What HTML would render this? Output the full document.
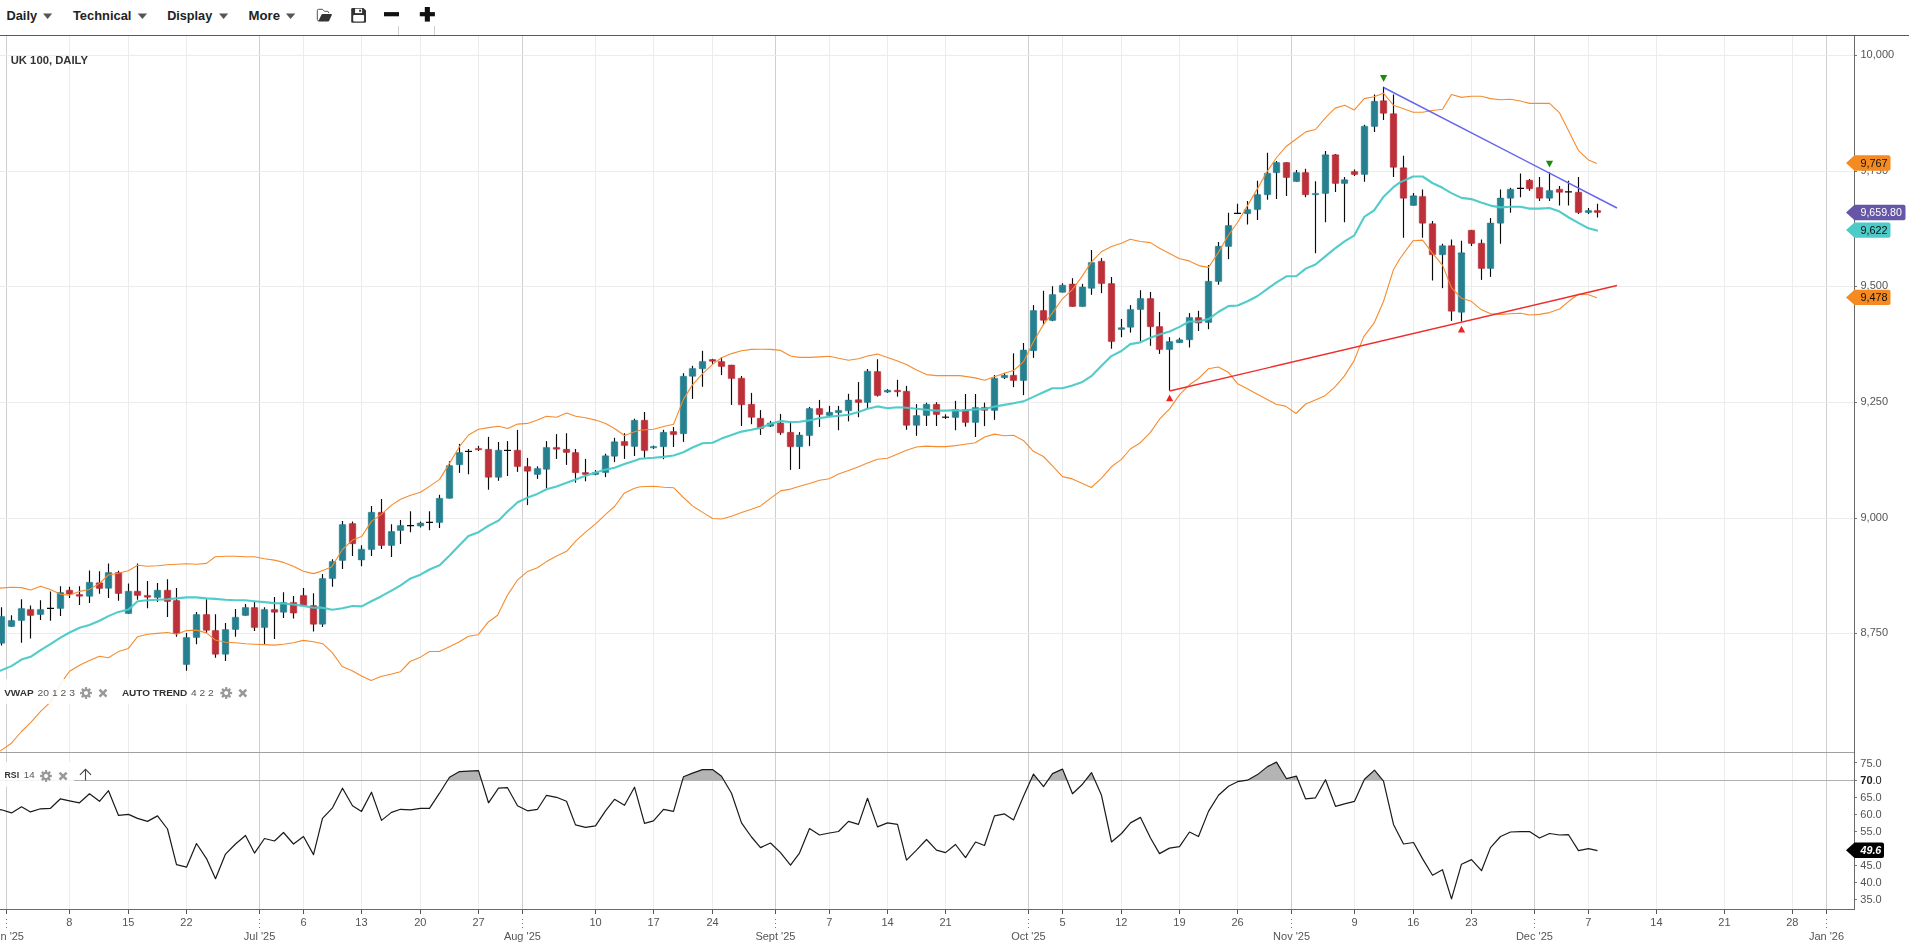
<!DOCTYPE html>
<html><head><meta charset="utf-8"><title>UK 100 Daily Chart</title>
<style>html,body{margin:0;padding:0;background:#fff;overflow:hidden}body{width:1909px;height:942px;font-family:"Liberation Sans",sans-serif}</style></head>
<body>
<svg width="1909" height="942" viewBox="0 0 1909 942" style="display:block;font-family:'Liberation Sans',sans-serif">
<rect width="1909" height="942" fill="#fff"/>
<g shape-rendering="crispEdges">
<line x1="6.5" y1="36" x2="6.5" y2="909" stroke="#cfcfcf" stroke-width="1"/>
<line x1="69.5" y1="36" x2="69.5" y2="909" stroke="#ececec" stroke-width="1"/>
<line x1="128.5" y1="36" x2="128.5" y2="909" stroke="#ececec" stroke-width="1"/>
<line x1="186.5" y1="36" x2="186.5" y2="909" stroke="#ececec" stroke-width="1"/>
<line x1="259.5" y1="36" x2="259.5" y2="909" stroke="#cfcfcf" stroke-width="1"/>
<line x1="303.5" y1="36" x2="303.5" y2="909" stroke="#ececec" stroke-width="1"/>
<line x1="361.5" y1="36" x2="361.5" y2="909" stroke="#ececec" stroke-width="1"/>
<line x1="420.5" y1="36" x2="420.5" y2="909" stroke="#ececec" stroke-width="1"/>
<line x1="478.5" y1="36" x2="478.5" y2="909" stroke="#ececec" stroke-width="1"/>
<line x1="522.5" y1="36" x2="522.5" y2="909" stroke="#cfcfcf" stroke-width="1"/>
<line x1="595.5" y1="36" x2="595.5" y2="909" stroke="#ececec" stroke-width="1"/>
<line x1="653.5" y1="36" x2="653.5" y2="909" stroke="#ececec" stroke-width="1"/>
<line x1="712.5" y1="36" x2="712.5" y2="909" stroke="#ececec" stroke-width="1"/>
<line x1="775.5" y1="36" x2="775.5" y2="909" stroke="#cfcfcf" stroke-width="1"/>
<line x1="829.5" y1="36" x2="829.5" y2="909" stroke="#ececec" stroke-width="1"/>
<line x1="887.5" y1="36" x2="887.5" y2="909" stroke="#ececec" stroke-width="1"/>
<line x1="945.5" y1="36" x2="945.5" y2="909" stroke="#ececec" stroke-width="1"/>
<line x1="1028.5" y1="36" x2="1028.5" y2="909" stroke="#cfcfcf" stroke-width="1"/>
<line x1="1062.5" y1="36" x2="1062.5" y2="909" stroke="#ececec" stroke-width="1"/>
<line x1="1121.5" y1="36" x2="1121.5" y2="909" stroke="#ececec" stroke-width="1"/>
<line x1="1179.5" y1="36" x2="1179.5" y2="909" stroke="#ececec" stroke-width="1"/>
<line x1="1237.5" y1="36" x2="1237.5" y2="909" stroke="#ececec" stroke-width="1"/>
<line x1="1291.5" y1="36" x2="1291.5" y2="909" stroke="#cfcfcf" stroke-width="1"/>
<line x1="1354.5" y1="36" x2="1354.5" y2="909" stroke="#ececec" stroke-width="1"/>
<line x1="1413.5" y1="36" x2="1413.5" y2="909" stroke="#ececec" stroke-width="1"/>
<line x1="1471.5" y1="36" x2="1471.5" y2="909" stroke="#ececec" stroke-width="1"/>
<line x1="1534.5" y1="36" x2="1534.5" y2="909" stroke="#cfcfcf" stroke-width="1"/>
<line x1="1588.5" y1="36" x2="1588.5" y2="909" stroke="#ececec" stroke-width="1"/>
<line x1="1656.5" y1="36" x2="1656.5" y2="909" stroke="#ececec" stroke-width="1"/>
<line x1="1724.5" y1="36" x2="1724.5" y2="909" stroke="#ececec" stroke-width="1"/>
<line x1="1792.5" y1="36" x2="1792.5" y2="909" stroke="#ececec" stroke-width="1"/>
<line x1="1826.5" y1="36" x2="1826.5" y2="909" stroke="#cfcfcf" stroke-width="1"/>
<line x1="0" y1="55.5" x2="1854.5" y2="55.5" stroke="#ececec" stroke-width="1"/>
<line x1="0" y1="171.5" x2="1854.5" y2="171.5" stroke="#ececec" stroke-width="1"/>
<line x1="0" y1="286.5" x2="1854.5" y2="286.5" stroke="#ececec" stroke-width="1"/>
<line x1="0" y1="402.5" x2="1854.5" y2="402.5" stroke="#ececec" stroke-width="1"/>
<line x1="0" y1="518.5" x2="1854.5" y2="518.5" stroke="#ececec" stroke-width="1"/>
<line x1="0" y1="633.5" x2="1854.5" y2="633.5" stroke="#ececec" stroke-width="1"/>
</g>
<clipPath id="cm"><rect x="0" y="36" width="1854.5" height="716.5"/></clipPath>
<g clip-path="url(#cm)">
<line x1="1.5" y1="607.3" x2="1.5" y2="645.6" stroke="#0a0a0a" stroke-width="1.15"/>
<rect x="-1.75" y="616.4" width="6.5" height="26.8" fill="#26808f" stroke="#1f7888" stroke-width="0.5" rx="0.4"/>
<line x1="11.5" y1="615.2" x2="11.5" y2="626.9" stroke="#0a0a0a" stroke-width="1.15"/>
<rect x="8.25" y="620.4" width="6.5" height="6.0" fill="#26808f" stroke="#1f7888" stroke-width="0.5" rx="0.4"/>
<line x1="21.5" y1="599.3" x2="21.5" y2="642.8" stroke="#0a0a0a" stroke-width="1.15"/>
<rect x="18.25" y="608.4" width="6.5" height="12.1" fill="#26808f" stroke="#1f7888" stroke-width="0.5" rx="0.4"/>
<line x1="30.5" y1="605.4" x2="30.5" y2="638.6" stroke="#0a0a0a" stroke-width="1.15"/>
<rect x="27.25" y="609.4" width="6.5" height="6.0" fill="#bb3039" stroke="#b7242d" stroke-width="0.5" rx="0.4"/>
<line x1="40.5" y1="600.3" x2="40.5" y2="619.9" stroke="#0a0a0a" stroke-width="1.15"/>
<rect x="37.25" y="609.4" width="6.5" height="5.1" fill="#26808f" stroke="#1f7888" stroke-width="0.5" rx="0.4"/>
<line x1="50.5" y1="591.4" x2="50.5" y2="620.8" stroke="#0a0a0a" stroke-width="1.15"/>
<line x1="47.0" y1="608.4" x2="54.0" y2="608.4" stroke="#0a0a0a" stroke-width="1.15"/>
<line x1="60.5" y1="586.2" x2="60.5" y2="616.1" stroke="#0a0a0a" stroke-width="1.15"/>
<rect x="57.25" y="592.6" width="6.5" height="15.8" fill="#26808f" stroke="#1f7888" stroke-width="0.5" rx="0.4"/>
<line x1="69.5" y1="586.7" x2="69.5" y2="597.9" stroke="#0a0a0a" stroke-width="1.15"/>
<rect x="66.25" y="590.2" width="6.5" height="3.7" fill="#bb3039" stroke="#b7242d" stroke-width="0.5" rx="0.4"/>
<line x1="79.5" y1="586.2" x2="79.5" y2="604.9" stroke="#0a0a0a" stroke-width="1.15"/>
<rect x="76.25" y="594.4" width="6.5" height="1.8" fill="#bb3039" stroke="#b7242d" stroke-width="0.5" rx="0.4"/>
<line x1="89.5" y1="570.4" x2="89.5" y2="603.1" stroke="#0a0a0a" stroke-width="1.15"/>
<rect x="86.25" y="582.3" width="6.5" height="14.0" fill="#26808f" stroke="#1f7888" stroke-width="0.5" rx="0.4"/>
<line x1="99.5" y1="571.3" x2="99.5" y2="593.7" stroke="#0a0a0a" stroke-width="1.15"/>
<rect x="96.25" y="582.8" width="6.5" height="5.6" fill="#bb3039" stroke="#b7242d" stroke-width="0.5" rx="0.4"/>
<line x1="108.5" y1="563.4" x2="108.5" y2="597.9" stroke="#0a0a0a" stroke-width="1.15"/>
<rect x="105.25" y="572.5" width="6.5" height="15.8" fill="#26808f" stroke="#1f7888" stroke-width="0.5" rx="0.4"/>
<line x1="118.5" y1="570.8" x2="118.5" y2="600.7" stroke="#0a0a0a" stroke-width="1.15"/>
<rect x="115.25" y="572.5" width="6.5" height="21.0" fill="#bb3039" stroke="#b7242d" stroke-width="0.5" rx="0.4"/>
<line x1="128.5" y1="583.4" x2="128.5" y2="613.8" stroke="#0a0a0a" stroke-width="1.15"/>
<rect x="125.25" y="591.2" width="6.5" height="22.4" fill="#26808f" stroke="#1f7888" stroke-width="0.5" rx="0.4"/>
<line x1="137.5" y1="563.4" x2="137.5" y2="599.8" stroke="#0a0a0a" stroke-width="1.15"/>
<rect x="134.25" y="591.2" width="6.5" height="4.2" fill="#bb3039" stroke="#b7242d" stroke-width="0.5" rx="0.4"/>
<line x1="147.5" y1="581.1" x2="147.5" y2="608.2" stroke="#0a0a0a" stroke-width="1.15"/>
<rect x="144.25" y="595.4" width="6.5" height="1.8" fill="#bb3039" stroke="#b7242d" stroke-width="0.5" rx="0.4"/>
<line x1="157.5" y1="583.0" x2="157.5" y2="602.1" stroke="#0a0a0a" stroke-width="1.15"/>
<rect x="154.25" y="590.2" width="6.5" height="7.4" fill="#26808f" stroke="#1f7888" stroke-width="0.5" rx="0.4"/>
<line x1="167.5" y1="579.2" x2="167.5" y2="617.1" stroke="#0a0a0a" stroke-width="1.15"/>
<rect x="164.25" y="590.2" width="6.5" height="11.2" fill="#bb3039" stroke="#b7242d" stroke-width="0.5" rx="0.4"/>
<line x1="176.5" y1="588.1" x2="176.5" y2="636.7" stroke="#0a0a0a" stroke-width="1.15"/>
<rect x="173.25" y="600.5" width="6.5" height="33.1" fill="#bb3039" stroke="#b7242d" stroke-width="0.5" rx="0.4"/>
<line x1="186.5" y1="632.9" x2="186.5" y2="670.8" stroke="#0a0a0a" stroke-width="1.15"/>
<rect x="183.25" y="637.4" width="6.5" height="27.1" fill="#26808f" stroke="#1f7888" stroke-width="0.5" rx="0.4"/>
<line x1="196.5" y1="611.9" x2="196.5" y2="644.2" stroke="#0a0a0a" stroke-width="1.15"/>
<rect x="193.25" y="614.5" width="6.5" height="22.9" fill="#26808f" stroke="#1f7888" stroke-width="0.5" rx="0.4"/>
<line x1="206.5" y1="599.3" x2="206.5" y2="632.9" stroke="#0a0a0a" stroke-width="1.15"/>
<rect x="203.25" y="614.5" width="6.5" height="15.8" fill="#bb3039" stroke="#b7242d" stroke-width="0.5" rx="0.4"/>
<line x1="215.5" y1="614.3" x2="215.5" y2="657.7" stroke="#0a0a0a" stroke-width="1.15"/>
<rect x="212.25" y="630.4" width="6.5" height="23.8" fill="#bb3039" stroke="#b7242d" stroke-width="0.5" rx="0.4"/>
<line x1="225.5" y1="623.1" x2="225.5" y2="661.0" stroke="#0a0a0a" stroke-width="1.15"/>
<rect x="222.25" y="629.5" width="6.5" height="24.7" fill="#26808f" stroke="#1f7888" stroke-width="0.5" rx="0.4"/>
<line x1="235.5" y1="609.1" x2="235.5" y2="636.7" stroke="#0a0a0a" stroke-width="1.15"/>
<rect x="232.25" y="617.3" width="6.5" height="12.1" fill="#26808f" stroke="#1f7888" stroke-width="0.5" rx="0.4"/>
<line x1="245.5" y1="604.0" x2="245.5" y2="615.7" stroke="#0a0a0a" stroke-width="1.15"/>
<rect x="242.25" y="607.5" width="6.5" height="7.9" fill="#26808f" stroke="#1f7888" stroke-width="0.5" rx="0.4"/>
<line x1="254.5" y1="601.7" x2="254.5" y2="631.1" stroke="#0a0a0a" stroke-width="1.15"/>
<rect x="251.25" y="607.5" width="6.5" height="20.1" fill="#bb3039" stroke="#b7242d" stroke-width="0.5" rx="0.4"/>
<line x1="264.5" y1="607.3" x2="264.5" y2="644.2" stroke="#0a0a0a" stroke-width="1.15"/>
<rect x="261.25" y="609.4" width="6.5" height="18.2" fill="#26808f" stroke="#1f7888" stroke-width="0.5" rx="0.4"/>
<line x1="274.5" y1="597.0" x2="274.5" y2="639.0" stroke="#0a0a0a" stroke-width="1.15"/>
<rect x="271.25" y="609.4" width="6.5" height="2.8" fill="#bb3039" stroke="#b7242d" stroke-width="0.5" rx="0.4"/>
<line x1="283.5" y1="592.3" x2="283.5" y2="618.0" stroke="#0a0a0a" stroke-width="1.15"/>
<rect x="280.25" y="602.4" width="6.5" height="9.8" fill="#26808f" stroke="#1f7888" stroke-width="0.5" rx="0.4"/>
<line x1="293.5" y1="596.0" x2="293.5" y2="618.5" stroke="#0a0a0a" stroke-width="1.15"/>
<rect x="290.25" y="602.4" width="6.5" height="10.7" fill="#bb3039" stroke="#b7242d" stroke-width="0.5" rx="0.4"/>
<line x1="303.5" y1="588.1" x2="303.5" y2="605.9" stroke="#0a0a0a" stroke-width="1.15"/>
<rect x="300.25" y="595.4" width="6.5" height="10.2" fill="#bb3039" stroke="#b7242d" stroke-width="0.5" rx="0.4"/>
<line x1="313.5" y1="593.2" x2="313.5" y2="631.5" stroke="#0a0a0a" stroke-width="1.15"/>
<rect x="310.25" y="605.6" width="6.5" height="18.6" fill="#bb3039" stroke="#b7242d" stroke-width="0.5" rx="0.4"/>
<line x1="322.5" y1="574.1" x2="322.5" y2="626.9" stroke="#0a0a0a" stroke-width="1.15"/>
<rect x="319.25" y="578.5" width="6.5" height="45.7" fill="#26808f" stroke="#1f7888" stroke-width="0.5" rx="0.4"/>
<line x1="332.5" y1="559.3" x2="332.5" y2="586.8" stroke="#0a0a0a" stroke-width="1.15"/>
<rect x="329.25" y="561.4" width="6.5" height="17.2" fill="#26808f" stroke="#1f7888" stroke-width="0.5" rx="0.4"/>
<line x1="342.5" y1="521.0" x2="342.5" y2="569.1" stroke="#0a0a0a" stroke-width="1.15"/>
<rect x="339.25" y="524.5" width="6.5" height="35.9" fill="#26808f" stroke="#1f7888" stroke-width="0.5" rx="0.4"/>
<line x1="352.5" y1="521.4" x2="352.5" y2="556.0" stroke="#0a0a0a" stroke-width="1.15"/>
<rect x="349.25" y="523.6" width="6.5" height="20.1" fill="#bb3039" stroke="#b7242d" stroke-width="0.5" rx="0.4"/>
<line x1="361.5" y1="545.3" x2="361.5" y2="566.3" stroke="#0a0a0a" stroke-width="1.15"/>
<rect x="358.25" y="549.2" width="6.5" height="10.7" fill="#26808f" stroke="#1f7888" stroke-width="0.5" rx="0.4"/>
<line x1="371.5" y1="506.0" x2="371.5" y2="556.0" stroke="#0a0a0a" stroke-width="1.15"/>
<rect x="368.25" y="512.3" width="6.5" height="37.3" fill="#26808f" stroke="#1f7888" stroke-width="0.5" rx="0.4"/>
<line x1="381.5" y1="499.0" x2="381.5" y2="549.0" stroke="#0a0a0a" stroke-width="1.15"/>
<rect x="378.25" y="512.3" width="6.5" height="33.1" fill="#bb3039" stroke="#b7242d" stroke-width="0.5" rx="0.4"/>
<line x1="391.5" y1="524.2" x2="391.5" y2="556.9" stroke="#0a0a0a" stroke-width="1.15"/>
<rect x="388.25" y="531.5" width="6.5" height="14.0" fill="#26808f" stroke="#1f7888" stroke-width="0.5" rx="0.4"/>
<line x1="400.5" y1="520.0" x2="400.5" y2="543.9" stroke="#0a0a0a" stroke-width="1.15"/>
<rect x="397.25" y="525.4" width="6.5" height="5.1" fill="#26808f" stroke="#1f7888" stroke-width="0.5" rx="0.4"/>
<line x1="410.5" y1="511.2" x2="410.5" y2="532.2" stroke="#0a0a0a" stroke-width="1.15"/>
<line x1="407.0" y1="525.6" x2="414.0" y2="525.6" stroke="#0a0a0a" stroke-width="1.15"/>
<line x1="420.5" y1="521.4" x2="420.5" y2="527.5" stroke="#0a0a0a" stroke-width="1.15"/>
<rect x="417.25" y="523.1" width="6.5" height="2.8" fill="#26808f" stroke="#1f7888" stroke-width="0.5" rx="0.4"/>
<line x1="429.5" y1="511.2" x2="429.5" y2="530.3" stroke="#0a0a0a" stroke-width="1.15"/>
<line x1="426.0" y1="522.4" x2="433.0" y2="522.4" stroke="#0a0a0a" stroke-width="1.15"/>
<line x1="439.5" y1="494.8" x2="439.5" y2="528.0" stroke="#0a0a0a" stroke-width="1.15"/>
<rect x="436.25" y="498.3" width="6.5" height="24.3" fill="#26808f" stroke="#1f7888" stroke-width="0.5" rx="0.4"/>
<line x1="449.5" y1="461.2" x2="449.5" y2="498.6" stroke="#0a0a0a" stroke-width="1.15"/>
<rect x="446.25" y="465.6" width="6.5" height="32.7" fill="#26808f" stroke="#1f7888" stroke-width="0.5" rx="0.4"/>
<line x1="459.5" y1="443.9" x2="459.5" y2="472.9" stroke="#0a0a0a" stroke-width="1.15"/>
<rect x="456.25" y="452.6" width="6.5" height="12.1" fill="#26808f" stroke="#1f7888" stroke-width="0.5" rx="0.4"/>
<line x1="468.5" y1="449.0" x2="468.5" y2="474.3" stroke="#0a0a0a" stroke-width="1.15"/>
<line x1="465.0" y1="451.4" x2="472.0" y2="451.4" stroke="#0a0a0a" stroke-width="1.15"/>
<line x1="478.5" y1="445.8" x2="478.5" y2="450.9" stroke="#0a0a0a" stroke-width="1.15"/>
<rect x="475.25" y="448.4" width="6.5" height="1.4" fill="#bb3039" stroke="#b7242d" stroke-width="0.5" rx="0.4"/>
<line x1="488.5" y1="436.9" x2="488.5" y2="489.7" stroke="#0a0a0a" stroke-width="1.15"/>
<rect x="485.25" y="449.3" width="6.5" height="28.0" fill="#bb3039" stroke="#b7242d" stroke-width="0.5" rx="0.4"/>
<line x1="498.5" y1="442.0" x2="498.5" y2="480.8" stroke="#0a0a0a" stroke-width="1.15"/>
<rect x="495.25" y="450.2" width="6.5" height="27.1" fill="#26808f" stroke="#1f7888" stroke-width="0.5" rx="0.4"/>
<line x1="507.5" y1="441.1" x2="507.5" y2="476.1" stroke="#0a0a0a" stroke-width="1.15"/>
<line x1="504.0" y1="450.4" x2="511.0" y2="450.4" stroke="#0a0a0a" stroke-width="1.15"/>
<line x1="517.5" y1="429.9" x2="517.5" y2="471.9" stroke="#0a0a0a" stroke-width="1.15"/>
<rect x="514.25" y="450.2" width="6.5" height="16.3" fill="#bb3039" stroke="#b7242d" stroke-width="0.5" rx="0.4"/>
<line x1="527.5" y1="457.9" x2="527.5" y2="505.1" stroke="#0a0a0a" stroke-width="1.15"/>
<rect x="524.25" y="466.6" width="6.5" height="4.6" fill="#bb3039" stroke="#b7242d" stroke-width="0.5" rx="0.4"/>
<line x1="537.5" y1="466.3" x2="537.5" y2="478.9" stroke="#0a0a0a" stroke-width="1.15"/>
<rect x="534.25" y="468.4" width="6.5" height="6.0" fill="#26808f" stroke="#1f7888" stroke-width="0.5" rx="0.4"/>
<line x1="546.5" y1="441.1" x2="546.5" y2="488.3" stroke="#0a0a0a" stroke-width="1.15"/>
<rect x="543.25" y="447.4" width="6.5" height="21.9" fill="#26808f" stroke="#1f7888" stroke-width="0.5" rx="0.4"/>
<line x1="556.5" y1="434.1" x2="556.5" y2="458.9" stroke="#0a0a0a" stroke-width="1.15"/>
<rect x="553.25" y="447.4" width="6.5" height="1.8" fill="#bb3039" stroke="#b7242d" stroke-width="0.5" rx="0.4"/>
<line x1="566.5" y1="433.2" x2="566.5" y2="464.9" stroke="#0a0a0a" stroke-width="1.15"/>
<rect x="563.25" y="449.3" width="6.5" height="3.2" fill="#bb3039" stroke="#b7242d" stroke-width="0.5" rx="0.4"/>
<line x1="575.5" y1="449.0" x2="575.5" y2="482.7" stroke="#0a0a0a" stroke-width="1.15"/>
<rect x="572.25" y="452.6" width="6.5" height="20.1" fill="#bb3039" stroke="#b7242d" stroke-width="0.5" rx="0.4"/>
<line x1="585.5" y1="458.9" x2="585.5" y2="481.3" stroke="#0a0a0a" stroke-width="1.15"/>
<rect x="582.25" y="472.6" width="6.5" height="1.8" fill="#bb3039" stroke="#b7242d" stroke-width="0.5" rx="0.4"/>
<line x1="595.5" y1="470.1" x2="595.5" y2="475.2" stroke="#0a0a0a" stroke-width="1.15"/>
<rect x="592.25" y="472.6" width="6.5" height="1.8" fill="#26808f" stroke="#1f7888" stroke-width="0.5" rx="0.4"/>
<line x1="605.5" y1="453.7" x2="605.5" y2="477.1" stroke="#0a0a0a" stroke-width="1.15"/>
<rect x="602.25" y="455.8" width="6.5" height="16.8" fill="#26808f" stroke="#1f7888" stroke-width="0.5" rx="0.4"/>
<line x1="614.5" y1="437.8" x2="614.5" y2="462.1" stroke="#0a0a0a" stroke-width="1.15"/>
<rect x="611.25" y="441.8" width="6.5" height="14.4" fill="#26808f" stroke="#1f7888" stroke-width="0.5" rx="0.4"/>
<line x1="624.5" y1="433.2" x2="624.5" y2="458.9" stroke="#0a0a0a" stroke-width="1.15"/>
<rect x="621.25" y="441.4" width="6.5" height="4.2" fill="#bb3039" stroke="#b7242d" stroke-width="0.5" rx="0.4"/>
<line x1="634.5" y1="418.7" x2="634.5" y2="456.0" stroke="#0a0a0a" stroke-width="1.15"/>
<rect x="631.25" y="420.3" width="6.5" height="26.1" fill="#26808f" stroke="#1f7888" stroke-width="0.5" rx="0.4"/>
<line x1="644.5" y1="412.0" x2="644.5" y2="457.8" stroke="#0a0a0a" stroke-width="1.15"/>
<rect x="641.25" y="420.2" width="6.5" height="30.3" fill="#bb3039" stroke="#b7242d" stroke-width="0.5" rx="0.4"/>
<line x1="653.5" y1="445.6" x2="653.5" y2="448.9" stroke="#0a0a0a" stroke-width="1.15"/>
<rect x="650.25" y="446.4" width="6.5" height="1.4" fill="#26808f" stroke="#1f7888" stroke-width="0.5" rx="0.4"/>
<line x1="663.5" y1="429.8" x2="663.5" y2="459.2" stroke="#0a0a0a" stroke-width="1.15"/>
<rect x="660.25" y="432.3" width="6.5" height="14.4" fill="#26808f" stroke="#1f7888" stroke-width="0.5" rx="0.4"/>
<line x1="673.5" y1="427.0" x2="673.5" y2="447.0" stroke="#0a0a0a" stroke-width="1.15"/>
<rect x="670.25" y="431.4" width="6.5" height="3.2" fill="#bb3039" stroke="#b7242d" stroke-width="0.5" rx="0.4"/>
<line x1="683.5" y1="373.2" x2="683.5" y2="441.9" stroke="#0a0a0a" stroke-width="1.15"/>
<rect x="680.25" y="376.3" width="6.5" height="57.4" fill="#26808f" stroke="#1f7888" stroke-width="0.5" rx="0.4"/>
<line x1="692.5" y1="365.8" x2="692.5" y2="398.9" stroke="#0a0a0a" stroke-width="1.15"/>
<rect x="689.25" y="368.4" width="6.5" height="7.9" fill="#26808f" stroke="#1f7888" stroke-width="0.5" rx="0.4"/>
<line x1="702.5" y1="350.8" x2="702.5" y2="386.8" stroke="#0a0a0a" stroke-width="1.15"/>
<rect x="699.25" y="361.4" width="6.5" height="7.4" fill="#26808f" stroke="#1f7888" stroke-width="0.5" rx="0.4"/>
<line x1="712.5" y1="358.8" x2="712.5" y2="363.9" stroke="#0a0a0a" stroke-width="1.15"/>
<rect x="709.25" y="359.5" width="6.5" height="1.8" fill="#bb3039" stroke="#b7242d" stroke-width="0.5" rx="0.4"/>
<line x1="721.5" y1="357.4" x2="721.5" y2="375.1" stroke="#0a0a0a" stroke-width="1.15"/>
<rect x="718.25" y="361.4" width="6.5" height="5.1" fill="#bb3039" stroke="#b7242d" stroke-width="0.5" rx="0.4"/>
<line x1="731.5" y1="364.8" x2="731.5" y2="405.0" stroke="#0a0a0a" stroke-width="1.15"/>
<rect x="728.25" y="365.1" width="6.5" height="13.5" fill="#bb3039" stroke="#b7242d" stroke-width="0.5" rx="0.4"/>
<line x1="741.5" y1="376.0" x2="741.5" y2="426.0" stroke="#0a0a0a" stroke-width="1.15"/>
<rect x="738.25" y="378.2" width="6.5" height="26.6" fill="#bb3039" stroke="#b7242d" stroke-width="0.5" rx="0.4"/>
<line x1="751.5" y1="392.9" x2="751.5" y2="424.2" stroke="#0a0a0a" stroke-width="1.15"/>
<rect x="748.25" y="404.3" width="6.5" height="13.0" fill="#bb3039" stroke="#b7242d" stroke-width="0.5" rx="0.4"/>
<line x1="760.5" y1="410.1" x2="760.5" y2="434.9" stroke="#0a0a0a" stroke-width="1.15"/>
<rect x="757.25" y="418.3" width="6.5" height="10.2" fill="#bb3039" stroke="#b7242d" stroke-width="0.5" rx="0.4"/>
<line x1="770.5" y1="420.9" x2="770.5" y2="427.0" stroke="#0a0a0a" stroke-width="1.15"/>
<rect x="767.25" y="423.0" width="6.5" height="3.2" fill="#26808f" stroke="#1f7888" stroke-width="0.5" rx="0.4"/>
<line x1="780.5" y1="413.9" x2="780.5" y2="434.9" stroke="#0a0a0a" stroke-width="1.15"/>
<rect x="777.25" y="423.0" width="6.5" height="9.8" fill="#bb3039" stroke="#b7242d" stroke-width="0.5" rx="0.4"/>
<line x1="790.5" y1="421.4" x2="790.5" y2="469.9" stroke="#0a0a0a" stroke-width="1.15"/>
<rect x="787.25" y="432.3" width="6.5" height="14.4" fill="#bb3039" stroke="#b7242d" stroke-width="0.5" rx="0.4"/>
<line x1="799.5" y1="432.1" x2="799.5" y2="469.0" stroke="#0a0a0a" stroke-width="1.15"/>
<rect x="796.25" y="435.1" width="6.5" height="11.6" fill="#26808f" stroke="#1f7888" stroke-width="0.5" rx="0.4"/>
<line x1="809.5" y1="406.9" x2="809.5" y2="446.1" stroke="#0a0a0a" stroke-width="1.15"/>
<rect x="806.25" y="408.5" width="6.5" height="27.1" fill="#26808f" stroke="#1f7888" stroke-width="0.5" rx="0.4"/>
<line x1="819.5" y1="399.9" x2="819.5" y2="427.0" stroke="#0a0a0a" stroke-width="1.15"/>
<rect x="816.25" y="408.5" width="6.5" height="6.0" fill="#bb3039" stroke="#b7242d" stroke-width="0.5" rx="0.4"/>
<line x1="829.5" y1="405.9" x2="829.5" y2="416.7" stroke="#0a0a0a" stroke-width="1.15"/>
<rect x="826.25" y="412.3" width="6.5" height="3.2" fill="#26808f" stroke="#1f7888" stroke-width="0.5" rx="0.4"/>
<line x1="838.5" y1="405.9" x2="838.5" y2="430.2" stroke="#0a0a0a" stroke-width="1.15"/>
<rect x="835.25" y="410.4" width="6.5" height="2.3" fill="#26808f" stroke="#1f7888" stroke-width="0.5" rx="0.4"/>
<line x1="848.5" y1="393.8" x2="848.5" y2="421.4" stroke="#0a0a0a" stroke-width="1.15"/>
<rect x="845.25" y="400.1" width="6.5" height="10.7" fill="#26808f" stroke="#1f7888" stroke-width="0.5" rx="0.4"/>
<line x1="858.5" y1="382.1" x2="858.5" y2="417.2" stroke="#0a0a0a" stroke-width="1.15"/>
<rect x="855.25" y="399.7" width="6.5" height="2.8" fill="#bb3039" stroke="#b7242d" stroke-width="0.5" rx="0.4"/>
<line x1="867.5" y1="369.0" x2="867.5" y2="408.3" stroke="#0a0a0a" stroke-width="1.15"/>
<rect x="864.25" y="371.2" width="6.5" height="31.3" fill="#26808f" stroke="#1f7888" stroke-width="0.5" rx="0.4"/>
<line x1="877.5" y1="359.2" x2="877.5" y2="396.6" stroke="#0a0a0a" stroke-width="1.15"/>
<rect x="874.25" y="371.6" width="6.5" height="23.8" fill="#bb3039" stroke="#b7242d" stroke-width="0.5" rx="0.4"/>
<line x1="887.5" y1="389.1" x2="887.5" y2="392.9" stroke="#0a0a0a" stroke-width="1.15"/>
<rect x="884.25" y="390.3" width="6.5" height="1.8" fill="#26808f" stroke="#1f7888" stroke-width="0.5" rx="0.4"/>
<line x1="897.5" y1="379.8" x2="897.5" y2="396.6" stroke="#0a0a0a" stroke-width="1.15"/>
<rect x="894.25" y="390.3" width="6.5" height="1.4" fill="#bb3039" stroke="#b7242d" stroke-width="0.5" rx="0.4"/>
<line x1="906.5" y1="385.9" x2="906.5" y2="429.8" stroke="#0a0a0a" stroke-width="1.15"/>
<rect x="903.25" y="391.2" width="6.5" height="34.1" fill="#bb3039" stroke="#b7242d" stroke-width="0.5" rx="0.4"/>
<line x1="916.5" y1="404.1" x2="916.5" y2="435.8" stroke="#0a0a0a" stroke-width="1.15"/>
<rect x="913.25" y="415.5" width="6.5" height="9.8" fill="#26808f" stroke="#1f7888" stroke-width="0.5" rx="0.4"/>
<line x1="926.5" y1="402.7" x2="926.5" y2="426.0" stroke="#0a0a0a" stroke-width="1.15"/>
<rect x="923.25" y="404.3" width="6.5" height="11.2" fill="#26808f" stroke="#1f7888" stroke-width="0.5" rx="0.4"/>
<line x1="936.5" y1="402.2" x2="936.5" y2="426.0" stroke="#0a0a0a" stroke-width="1.15"/>
<rect x="933.25" y="404.3" width="6.5" height="10.2" fill="#bb3039" stroke="#b7242d" stroke-width="0.5" rx="0.4"/>
<line x1="945.5" y1="414.3" x2="945.5" y2="419.0" stroke="#0a0a0a" stroke-width="1.15"/>
<line x1="942.0" y1="417.2" x2="949.0" y2="417.2" stroke="#0a0a0a" stroke-width="1.15"/>
<line x1="955.5" y1="400.8" x2="955.5" y2="430.2" stroke="#0a0a0a" stroke-width="1.15"/>
<rect x="952.25" y="409.5" width="6.5" height="7.9" fill="#26808f" stroke="#1f7888" stroke-width="0.5" rx="0.4"/>
<line x1="965.5" y1="394.0" x2="965.5" y2="426.7" stroke="#0a0a0a" stroke-width="1.15"/>
<rect x="962.25" y="409.7" width="6.5" height="12.7" fill="#bb3039" stroke="#b7242d" stroke-width="0.5" rx="0.4"/>
<line x1="975.5" y1="394.0" x2="975.5" y2="437.0" stroke="#0a0a0a" stroke-width="1.15"/>
<rect x="972.25" y="407.4" width="6.5" height="15.0" fill="#26808f" stroke="#1f7888" stroke-width="0.5" rx="0.4"/>
<line x1="984.5" y1="402.6" x2="984.5" y2="426.1" stroke="#0a0a0a" stroke-width="1.15"/>
<rect x="981.25" y="407.4" width="6.5" height="2.9" fill="#bb3039" stroke="#b7242d" stroke-width="0.5" rx="0.4"/>
<line x1="994.5" y1="375.1" x2="994.5" y2="419.8" stroke="#0a0a0a" stroke-width="1.15"/>
<rect x="991.25" y="378.2" width="6.5" height="32.2" fill="#26808f" stroke="#1f7888" stroke-width="0.5" rx="0.4"/>
<line x1="1004.5" y1="372.8" x2="1004.5" y2="379.1" stroke="#0a0a0a" stroke-width="1.15"/>
<rect x="1001.25" y="375.3" width="6.5" height="2.4" fill="#26808f" stroke="#1f7888" stroke-width="0.5" rx="0.4"/>
<line x1="1013.5" y1="353.3" x2="1013.5" y2="387.1" stroke="#0a0a0a" stroke-width="1.15"/>
<rect x="1010.25" y="375.3" width="6.5" height="5.2" fill="#bb3039" stroke="#b7242d" stroke-width="0.5" rx="0.4"/>
<line x1="1023.5" y1="343.0" x2="1023.5" y2="395.1" stroke="#0a0a0a" stroke-width="1.15"/>
<rect x="1020.25" y="350.1" width="6.5" height="30.5" fill="#26808f" stroke="#1f7888" stroke-width="0.5" rx="0.4"/>
<line x1="1033.5" y1="305.1" x2="1033.5" y2="357.9" stroke="#0a0a0a" stroke-width="1.15"/>
<rect x="1030.25" y="310.5" width="6.5" height="40.2" fill="#26808f" stroke="#1f7888" stroke-width="0.5" rx="0.4"/>
<line x1="1043.5" y1="290.8" x2="1043.5" y2="325.2" stroke="#0a0a0a" stroke-width="1.15"/>
<rect x="1040.25" y="310.5" width="6.5" height="9.8" fill="#bb3039" stroke="#b7242d" stroke-width="0.5" rx="0.4"/>
<line x1="1052.5" y1="286.2" x2="1052.5" y2="321.2" stroke="#0a0a0a" stroke-width="1.15"/>
<rect x="1049.25" y="294.5" width="6.5" height="25.9" fill="#26808f" stroke="#1f7888" stroke-width="0.5" rx="0.4"/>
<line x1="1062.5" y1="283.3" x2="1062.5" y2="292.5" stroke="#0a0a0a" stroke-width="1.15"/>
<rect x="1059.25" y="285.3" width="6.5" height="7.0" fill="#26808f" stroke="#1f7888" stroke-width="0.5" rx="0.4"/>
<line x1="1072.5" y1="278.2" x2="1072.5" y2="306.8" stroke="#0a0a0a" stroke-width="1.15"/>
<rect x="1069.25" y="284.1" width="6.5" height="22.4" fill="#bb3039" stroke="#b7242d" stroke-width="0.5" rx="0.4"/>
<line x1="1082.5" y1="283.9" x2="1082.5" y2="306.8" stroke="#0a0a0a" stroke-width="1.15"/>
<rect x="1079.25" y="287.0" width="6.5" height="19.6" fill="#26808f" stroke="#1f7888" stroke-width="0.5" rx="0.4"/>
<line x1="1091.5" y1="250.1" x2="1091.5" y2="294.8" stroke="#0a0a0a" stroke-width="1.15"/>
<rect x="1088.25" y="262.4" width="6.5" height="25.9" fill="#26808f" stroke="#1f7888" stroke-width="0.5" rx="0.4"/>
<line x1="1101.5" y1="258.1" x2="1101.5" y2="293.1" stroke="#0a0a0a" stroke-width="1.15"/>
<rect x="1098.25" y="261.2" width="6.5" height="22.4" fill="#bb3039" stroke="#b7242d" stroke-width="0.5" rx="0.4"/>
<line x1="1111.5" y1="277.0" x2="1111.5" y2="348.7" stroke="#0a0a0a" stroke-width="1.15"/>
<rect x="1108.25" y="283.6" width="6.5" height="58.0" fill="#bb3039" stroke="#b7242d" stroke-width="0.5" rx="0.4"/>
<line x1="1121.5" y1="318.9" x2="1121.5" y2="337.2" stroke="#0a0a0a" stroke-width="1.15"/>
<rect x="1118.25" y="327.7" width="6.5" height="1.8" fill="#26808f" stroke="#1f7888" stroke-width="0.5" rx="0.4"/>
<line x1="1130.5" y1="305.1" x2="1130.5" y2="332.6" stroke="#0a0a0a" stroke-width="1.15"/>
<rect x="1127.25" y="309.4" width="6.5" height="17.8" fill="#26808f" stroke="#1f7888" stroke-width="0.5" rx="0.4"/>
<line x1="1140.5" y1="290.2" x2="1140.5" y2="341.2" stroke="#0a0a0a" stroke-width="1.15"/>
<rect x="1137.25" y="298.5" width="6.5" height="11.0" fill="#26808f" stroke="#1f7888" stroke-width="0.5" rx="0.4"/>
<line x1="1150.5" y1="291.9" x2="1150.5" y2="345.8" stroke="#0a0a0a" stroke-width="1.15"/>
<rect x="1147.25" y="298.5" width="6.5" height="28.2" fill="#bb3039" stroke="#b7242d" stroke-width="0.5" rx="0.4"/>
<line x1="1159.5" y1="312.0" x2="1159.5" y2="353.9" stroke="#0a0a0a" stroke-width="1.15"/>
<rect x="1156.25" y="326.6" width="6.5" height="23.0" fill="#bb3039" stroke="#b7242d" stroke-width="0.5" rx="0.4"/>
<line x1="1169.5" y1="337.2" x2="1169.5" y2="390.6" stroke="#0a0a0a" stroke-width="1.15"/>
<rect x="1166.25" y="341.5" width="6.5" height="8.1" fill="#26808f" stroke="#1f7888" stroke-width="0.5" rx="0.4"/>
<line x1="1179.5" y1="337.8" x2="1179.5" y2="343.0" stroke="#0a0a0a" stroke-width="1.15"/>
<rect x="1176.25" y="339.8" width="6.5" height="2.9" fill="#26808f" stroke="#1f7888" stroke-width="0.5" rx="0.4"/>
<line x1="1189.5" y1="313.1" x2="1189.5" y2="347.5" stroke="#0a0a0a" stroke-width="1.15"/>
<rect x="1186.25" y="317.4" width="6.5" height="22.4" fill="#26808f" stroke="#1f7888" stroke-width="0.5" rx="0.4"/>
<line x1="1198.5" y1="310.8" x2="1198.5" y2="331.0" stroke="#0a0a0a" stroke-width="1.15"/>
<rect x="1195.25" y="317.6" width="6.5" height="5.4" fill="#bb3039" stroke="#b7242d" stroke-width="0.5" rx="0.4"/>
<line x1="1208.5" y1="265.1" x2="1208.5" y2="329.2" stroke="#0a0a0a" stroke-width="1.15"/>
<rect x="1205.25" y="281.3" width="6.5" height="41.1" fill="#26808f" stroke="#1f7888" stroke-width="0.5" rx="0.4"/>
<line x1="1218.5" y1="241.9" x2="1218.5" y2="284.7" stroke="#0a0a0a" stroke-width="1.15"/>
<rect x="1215.25" y="246.3" width="6.5" height="35.2" fill="#26808f" stroke="#1f7888" stroke-width="0.5" rx="0.4"/>
<line x1="1228.5" y1="212.7" x2="1228.5" y2="259.1" stroke="#0a0a0a" stroke-width="1.15"/>
<rect x="1225.25" y="225.5" width="6.5" height="20.9" fill="#26808f" stroke="#1f7888" stroke-width="0.5" rx="0.4"/>
<line x1="1237.5" y1="203.8" x2="1237.5" y2="213.3" stroke="#0a0a0a" stroke-width="1.15"/>
<line x1="1234.0" y1="213.3" x2="1241.0" y2="213.3" stroke="#0a0a0a" stroke-width="1.15"/>
<line x1="1247.5" y1="200.9" x2="1247.5" y2="224.6" stroke="#0a0a0a" stroke-width="1.15"/>
<rect x="1244.25" y="209.4" width="6.5" height="4.3" fill="#26808f" stroke="#1f7888" stroke-width="0.5" rx="0.4"/>
<line x1="1257.5" y1="180.7" x2="1257.5" y2="219.9" stroke="#0a0a0a" stroke-width="1.15"/>
<rect x="1254.25" y="194.6" width="6.5" height="15.0" fill="#26808f" stroke="#1f7888" stroke-width="0.5" rx="0.4"/>
<line x1="1267.5" y1="152.7" x2="1267.5" y2="199.7" stroke="#0a0a0a" stroke-width="1.15"/>
<rect x="1264.25" y="173.2" width="6.5" height="21.5" fill="#26808f" stroke="#1f7888" stroke-width="0.5" rx="0.4"/>
<line x1="1276.5" y1="161.0" x2="1276.5" y2="199.1" stroke="#0a0a0a" stroke-width="1.15"/>
<rect x="1273.25" y="162.5" width="6.5" height="10.2" fill="#26808f" stroke="#1f7888" stroke-width="0.5" rx="0.4"/>
<line x1="1286.5" y1="162.2" x2="1286.5" y2="196.1" stroke="#0a0a0a" stroke-width="1.15"/>
<rect x="1283.25" y="162.5" width="6.5" height="15.0" fill="#bb3039" stroke="#b7242d" stroke-width="0.5" rx="0.4"/>
<line x1="1296.5" y1="170.0" x2="1296.5" y2="181.8" stroke="#0a0a0a" stroke-width="1.15"/>
<rect x="1293.25" y="172.6" width="6.5" height="9.0" fill="#26808f" stroke="#1f7888" stroke-width="0.5" rx="0.4"/>
<line x1="1305.5" y1="168.8" x2="1305.5" y2="197.3" stroke="#0a0a0a" stroke-width="1.15"/>
<rect x="1302.25" y="172.6" width="6.5" height="22.1" fill="#bb3039" stroke="#b7242d" stroke-width="0.5" rx="0.4"/>
<line x1="1315.5" y1="181.2" x2="1315.5" y2="253.2" stroke="#0a0a0a" stroke-width="1.15"/>
<rect x="1312.25" y="193.4" width="6.5" height="1.3" fill="#26808f" stroke="#1f7888" stroke-width="0.5" rx="0.4"/>
<line x1="1325.5" y1="150.9" x2="1325.5" y2="222.3" stroke="#0a0a0a" stroke-width="1.15"/>
<rect x="1322.25" y="154.8" width="6.5" height="38.7" fill="#26808f" stroke="#1f7888" stroke-width="0.5" rx="0.4"/>
<line x1="1335.5" y1="153.9" x2="1335.5" y2="191.9" stroke="#0a0a0a" stroke-width="1.15"/>
<rect x="1332.25" y="154.8" width="6.5" height="28.6" fill="#bb3039" stroke="#b7242d" stroke-width="0.5" rx="0.4"/>
<line x1="1344.5" y1="177.1" x2="1344.5" y2="222.3" stroke="#0a0a0a" stroke-width="1.15"/>
<rect x="1341.25" y="179.7" width="6.5" height="3.7" fill="#26808f" stroke="#1f7888" stroke-width="0.5" rx="0.4"/>
<line x1="1354.5" y1="169.4" x2="1354.5" y2="175.9" stroke="#0a0a0a" stroke-width="1.15"/>
<rect x="1351.25" y="171.4" width="6.5" height="3.1" fill="#bb3039" stroke="#b7242d" stroke-width="0.5" rx="0.4"/>
<line x1="1364.5" y1="124.8" x2="1364.5" y2="181.8" stroke="#0a0a0a" stroke-width="1.15"/>
<rect x="1361.25" y="126.2" width="6.5" height="48.2" fill="#26808f" stroke="#1f7888" stroke-width="0.5" rx="0.4"/>
<line x1="1374.5" y1="94.5" x2="1374.5" y2="131.9" stroke="#0a0a0a" stroke-width="1.15"/>
<rect x="1371.25" y="101.3" width="6.5" height="25.1" fill="#26808f" stroke="#1f7888" stroke-width="0.5" rx="0.4"/>
<line x1="1383.5" y1="86.7" x2="1383.5" y2="120.0" stroke="#0a0a0a" stroke-width="1.15"/>
<rect x="1380.25" y="100.7" width="6.5" height="12.6" fill="#bb3039" stroke="#b7242d" stroke-width="0.5" rx="0.4"/>
<line x1="1393.5" y1="94.5" x2="1393.5" y2="177.1" stroke="#0a0a0a" stroke-width="1.15"/>
<rect x="1390.25" y="113.7" width="6.5" height="53.6" fill="#bb3039" stroke="#b7242d" stroke-width="0.5" rx="0.4"/>
<line x1="1403.5" y1="155.7" x2="1403.5" y2="237.7" stroke="#0a0a0a" stroke-width="1.15"/>
<rect x="1400.25" y="167.8" width="6.5" height="30.4" fill="#bb3039" stroke="#b7242d" stroke-width="0.5" rx="0.4"/>
<line x1="1413.5" y1="193.1" x2="1413.5" y2="205.6" stroke="#0a0a0a" stroke-width="1.15"/>
<rect x="1410.25" y="195.8" width="6.5" height="9.6" fill="#26808f" stroke="#1f7888" stroke-width="0.5" rx="0.4"/>
<line x1="1422.5" y1="189.6" x2="1422.5" y2="237.7" stroke="#0a0a0a" stroke-width="1.15"/>
<rect x="1419.25" y="196.4" width="6.5" height="26.8" fill="#bb3039" stroke="#b7242d" stroke-width="0.5" rx="0.4"/>
<line x1="1432.5" y1="221.1" x2="1432.5" y2="280.5" stroke="#0a0a0a" stroke-width="1.15"/>
<rect x="1429.25" y="223.7" width="6.5" height="31.0" fill="#bb3039" stroke="#b7242d" stroke-width="0.5" rx="0.4"/>
<line x1="1442.5" y1="243.7" x2="1442.5" y2="288.2" stroke="#0a0a0a" stroke-width="1.15"/>
<rect x="1439.25" y="245.7" width="6.5" height="9.0" fill="#26808f" stroke="#1f7888" stroke-width="0.5" rx="0.4"/>
<line x1="1451.5" y1="239.5" x2="1451.5" y2="320.9" stroke="#0a0a0a" stroke-width="1.15"/>
<rect x="1448.25" y="245.7" width="6.5" height="65.5" fill="#bb3039" stroke="#b7242d" stroke-width="0.5" rx="0.4"/>
<line x1="1461.5" y1="240.7" x2="1461.5" y2="321.5" stroke="#0a0a0a" stroke-width="1.15"/>
<rect x="1458.25" y="252.8" width="6.5" height="59.5" fill="#26808f" stroke="#1f7888" stroke-width="0.5" rx="0.4"/>
<line x1="1471.5" y1="230.0" x2="1471.5" y2="246.0" stroke="#0a0a0a" stroke-width="1.15"/>
<rect x="1468.25" y="230.2" width="6.5" height="13.2" fill="#bb3039" stroke="#b7242d" stroke-width="0.5" rx="0.4"/>
<line x1="1481.5" y1="239.5" x2="1481.5" y2="279.9" stroke="#0a0a0a" stroke-width="1.15"/>
<rect x="1478.25" y="243.3" width="6.5" height="25.1" fill="#bb3039" stroke="#b7242d" stroke-width="0.5" rx="0.4"/>
<line x1="1490.5" y1="218.1" x2="1490.5" y2="276.9" stroke="#0a0a0a" stroke-width="1.15"/>
<rect x="1487.25" y="223.1" width="6.5" height="45.3" fill="#26808f" stroke="#1f7888" stroke-width="0.5" rx="0.4"/>
<line x1="1500.5" y1="189.6" x2="1500.5" y2="243.7" stroke="#0a0a0a" stroke-width="1.15"/>
<rect x="1497.25" y="198.1" width="6.5" height="25.1" fill="#26808f" stroke="#1f7888" stroke-width="0.5" rx="0.4"/>
<line x1="1510.5" y1="187.8" x2="1510.5" y2="212.7" stroke="#0a0a0a" stroke-width="1.15"/>
<rect x="1507.25" y="189.2" width="6.5" height="9.0" fill="#26808f" stroke="#1f7888" stroke-width="0.5" rx="0.4"/>
<line x1="1520.5" y1="173.5" x2="1520.5" y2="197.3" stroke="#0a0a0a" stroke-width="1.15"/>
<line x1="1517.0" y1="188.4" x2="1524.0" y2="188.4" stroke="#0a0a0a" stroke-width="1.15"/>
<line x1="1529.5" y1="178.9" x2="1529.5" y2="190.8" stroke="#0a0a0a" stroke-width="1.15"/>
<rect x="1526.25" y="180.3" width="6.5" height="8.4" fill="#bb3039" stroke="#b7242d" stroke-width="0.5" rx="0.4"/>
<line x1="1539.5" y1="177.1" x2="1539.5" y2="200.9" stroke="#0a0a0a" stroke-width="1.15"/>
<rect x="1536.25" y="187.4" width="6.5" height="10.8" fill="#bb3039" stroke="#b7242d" stroke-width="0.5" rx="0.4"/>
<line x1="1549.5" y1="172.3" x2="1549.5" y2="200.9" stroke="#0a0a0a" stroke-width="1.15"/>
<rect x="1546.25" y="190.4" width="6.5" height="7.8" fill="#26808f" stroke="#1f7888" stroke-width="0.5" rx="0.4"/>
<line x1="1559.5" y1="186.0" x2="1559.5" y2="205.6" stroke="#0a0a0a" stroke-width="1.15"/>
<rect x="1556.25" y="189.2" width="6.5" height="3.1" fill="#bb3039" stroke="#b7242d" stroke-width="0.5" rx="0.4"/>
<line x1="1568.5" y1="180.7" x2="1568.5" y2="205.6" stroke="#0a0a0a" stroke-width="1.15"/>
<line x1="1565.0" y1="191.9" x2="1572.0" y2="191.9" stroke="#0a0a0a" stroke-width="1.15"/>
<line x1="1578.5" y1="177.1" x2="1578.5" y2="213.9" stroke="#0a0a0a" stroke-width="1.15"/>
<rect x="1575.25" y="192.2" width="6.5" height="20.3" fill="#bb3039" stroke="#b7242d" stroke-width="0.5" rx="0.4"/>
<line x1="1588.5" y1="208.0" x2="1588.5" y2="213.9" stroke="#0a0a0a" stroke-width="1.15"/>
<rect x="1585.25" y="210.6" width="6.5" height="1.9" fill="#26808f" stroke="#1f7888" stroke-width="0.5" rx="0.4"/>
<line x1="1597.5" y1="203.8" x2="1597.5" y2="217.5" stroke="#0a0a0a" stroke-width="1.15"/>
<rect x="1594.25" y="210.6" width="6.5" height="1.9" fill="#bb3039" stroke="#b7242d" stroke-width="0.5" rx="0.4"/>
<path d="M0.0,588.1 L11.4,587.2 L21.5,587.6 L30.6,590.0 L40.6,586.2 L50.4,589.5 L60.5,594.2 L69.6,595.1 L79.6,591.4 L89.4,589.5 L99.5,583.4 L108.4,575.0 L118.4,573.2 L128.4,570.8 L137.6,565.2 L147.4,566.2 L157.4,565.7 L167.4,564.8 L176.6,564.3 L186.4,563.8 L196.4,564.3 L206.4,563.4 L215.3,556.8 L225.4,556.3 L235.4,556.3 L245.4,556.8 L254.3,556.8 L264.4,558.7 L274.4,560.1 L283.5,562.4 L293.3,566.2 L303.4,571.3 L313.4,573.6 L320.0,571.6 L331.7,567.0 L342.4,549.5 L352.5,540.1 L361.6,536.6 L371.4,521.4 L381.4,514.4 L391.5,505.1 L400.6,499.3 L410.6,495.3 L420.4,492.2 L429.5,486.4 L439.6,479.4 L449.6,463.1 L459.4,446.7 L468.5,435.0 L478.6,429.2 L488.6,427.6 L498.7,426.2 L507.5,428.5 L517.6,424.1 L527.6,423.4 L537.4,420.1 L546.5,416.3 L556.6,417.3 L566.6,413.1 L575.7,416.3 L585.5,417.7 L595.6,420.1 L605.6,423.4 L614.5,428.5 L624.5,435.5 L634.6,431.8 L640.0,430.2 L653.5,429.3 L663.6,426.5 L673.6,424.2 L683.4,399.4 L692.5,384.9 L702.6,373.7 L712.6,364.4 L721.5,357.8 L731.5,353.6 L741.6,350.8 L751.4,349.4 L760.5,349.2 L770.5,349.4 L780.6,350.4 L790.6,356.0 L799.5,357.4 L809.5,357.4 L819.6,356.9 L829.4,356.2 L838.5,358.3 L848.5,360.2 L858.6,358.8 L867.5,356.0 L877.5,354.1 L887.5,357.4 L897.6,361.1 L906.5,364.4 L916.5,370.0 L926.5,374.6 L936.6,375.6 L945.5,375.6 L955.5,375.6 L960.0,375.6 L975.2,377.9 L984.7,380.2 L994.4,376.8 L1004.2,373.3 L1013.6,370.5 L1023.4,361.9 L1033.4,341.8 L1043.4,324.6 L1052.3,313.1 L1062.4,298.8 L1072.4,289.6 L1082.4,275.9 L1091.3,262.1 L1101.3,251.8 L1111.4,246.6 L1121.4,243.2 L1130.3,239.2 L1140.3,241.5 L1150.4,242.6 L1159.5,248.3 L1169.6,253.5 L1179.6,258.7 L1189.2,260.9 L1198.7,265.6 L1208.5,267.4 L1218.3,252.6 L1228.4,235.3 L1237.7,222.3 L1247.5,205.6 L1257.6,188.4 L1267.4,171.1 L1276.6,157.5 L1286.4,146.2 L1296.2,139.0 L1305.7,131.9 L1315.5,129.5 L1325.6,117.7 L1335.1,108.1 L1344.6,105.2 L1354.4,109.9 L1364.2,98.6 L1374.1,96.8 L1383.6,93.3 L1393.4,105.2 L1400.0,107.5 L1413.1,112.3 L1422.6,112.3 L1432.4,110.5 L1442.5,109.3 L1451.4,94.5 L1461.5,97.4 L1471.3,96.3 L1481.1,96.3 L1490.6,98.6 L1500.4,99.8 L1510.3,99.2 L1520.4,101.0 L1529.6,103.4 L1539.4,103.4 L1549.5,103.4 L1559.6,112.9 L1568.8,131.3 L1578.3,150.3 L1588.4,159.9 L1597.0,163.4" fill="none" stroke="#f58c30" stroke-width="1.1" stroke-linejoin="round"/>
<path d="M0.0,751.1 L11.4,743.2 L21.5,731.5 L30.6,722.6 L40.6,711.4 L50.4,702.1 L60.5,683.9 L69.6,671.2 L79.6,665.2 L89.4,660.5 L99.5,656.3 L108.4,657.7 L118.4,651.6 L128.4,648.4 L137.6,636.7 L147.4,634.3 L157.4,633.4 L167.4,632.5 L176.6,634.3 L186.4,630.6 L196.4,630.1 L206.4,632.9 L215.3,640.0 L225.4,642.3 L235.4,642.8 L245.4,643.7 L254.3,644.2 L264.4,644.6 L274.4,645.1 L283.5,644.2 L293.3,642.8 L303.4,640.4 L313.4,641.8 L322.7,643.7 L332.3,652.6 L342.1,666.5 L351.7,670.4 L361.5,676.1 L371.1,680.4 L380.9,676.5 L390.7,674.3 L400.3,671.8 L410.1,661.5 L419.7,657.6 L429.5,651.5 L439.3,651.5 L448.9,646.9 L458.7,642.3 L468.4,636.2 L478.1,634.8 L487.9,622.3 L497.6,615.2 L507.4,595.3 L517.6,579.8 L527.6,571.4 L537.4,567.7 L546.5,561.6 L556.6,556.0 L566.6,551.3 L575.7,541.1 L585.5,532.2 L595.6,523.8 L605.6,514.4 L614.5,506.5 L624.5,492.9 L634.6,488.3 L640.0,486.7 L653.5,486.3 L663.6,487.2 L673.6,487.7 L683.4,497.5 L692.5,505.9 L702.6,512.4 L712.6,518.5 L721.5,519.0 L731.5,516.2 L741.6,512.4 L751.4,509.2 L760.5,505.9 L770.5,498.4 L780.6,490.9 L790.6,489.1 L799.5,486.3 L809.5,483.5 L819.6,480.2 L829.4,478.8 L838.5,474.1 L848.5,470.4 L858.6,466.7 L867.5,462.9 L877.5,459.2 L887.5,458.3 L897.6,454.0 L906.5,450.3 L916.5,447.0 L926.5,446.1 L936.6,446.6 L945.5,446.6 L955.5,445.6 L960.0,445.0 L975.2,442.7 L984.7,437.0 L994.4,434.1 L1004.2,435.8 L1013.6,435.3 L1023.4,440.4 L1033.4,451.3 L1043.4,456.5 L1052.3,465.7 L1062.4,476.6 L1072.4,478.9 L1082.4,483.4 L1091.3,487.5 L1101.3,478.3 L1111.4,466.8 L1121.4,459.4 L1130.3,449.0 L1140.3,442.7 L1150.4,432.4 L1159.5,419.2 L1169.6,408.9 L1179.6,394.6 L1189.4,384.8 L1198.5,378.5 L1208.3,368.8 L1218.3,367.0 L1228.3,372.2 L1237.5,383.7 L1247.3,388.8 L1257.0,394.0 L1266.8,399.2 L1275.9,404.3 L1285.6,406.1 L1296.0,413.5 L1305.7,404.0 L1315.3,399.9 L1325.0,395.7 L1334.6,387.4 L1344.3,376.1 L1354.0,360.9 L1363.6,336.9 L1374.0,323.2 L1383.5,301.5 L1393.4,269.8 L1400.0,258.5 L1413.1,240.7 L1422.6,240.1 L1432.4,253.2 L1442.5,265.1 L1451.4,287.6 L1461.5,298.3 L1471.3,301.3 L1481.1,309.6 L1490.6,313.8 L1500.4,314.4 L1510.3,313.8 L1520.4,313.2 L1529.6,315.0 L1539.4,314.4 L1549.5,312.6 L1559.6,309.0 L1568.8,301.3 L1578.3,294.2 L1588.4,294.8 L1597.0,297.7" fill="none" stroke="#f58c30" stroke-width="1.1" stroke-linejoin="round"/>
<path d="M0.0,670.8 L11.4,666.1 L21.5,659.6 L30.6,656.8 L40.6,650.2 L50.4,644.2 L60.5,637.6 L69.6,632.5 L79.6,627.8 L89.4,625.0 L99.5,620.8 L108.4,616.1 L118.4,611.9 L128.4,609.6 L137.6,601.2 L147.4,600.3 L157.4,599.8 L167.4,599.3 L176.6,598.4 L186.4,597.4 L196.4,597.4 L206.4,598.4 L215.3,598.9 L225.4,599.8 L235.4,600.3 L245.4,600.3 L254.3,601.2 L264.4,602.1 L274.4,603.1 L283.5,603.5 L293.3,604.5 L303.4,605.9 L313.4,607.7 L320.0,607.4 L332.4,609.7 L342.4,608.3 L352.5,606.0 L361.6,606.4 L371.4,601.3 L381.4,596.2 L391.5,590.6 L400.6,585.4 L410.6,578.4 L420.4,574.7 L429.5,569.5 L439.6,565.3 L449.6,555.5 L459.4,545.3 L468.5,535.9 L478.6,532.2 L488.6,525.6 L498.7,520.5 L507.5,511.6 L517.6,502.3 L527.6,497.6 L537.4,493.9 L546.5,489.2 L556.6,486.4 L566.6,482.7 L575.7,479.4 L585.5,475.7 L595.6,472.4 L605.6,469.6 L614.5,467.7 L624.5,464.0 L634.6,460.7 L640.0,458.7 L653.5,457.8 L663.6,456.9 L673.6,455.5 L683.4,452.2 L692.5,447.5 L702.6,443.3 L712.6,442.8 L721.5,438.6 L731.5,434.9 L741.6,431.6 L751.4,429.8 L760.5,427.9 L770.5,423.7 L780.6,420.9 L790.6,422.3 L799.5,421.8 L809.5,420.4 L819.6,418.1 L829.4,416.7 L838.5,415.7 L848.5,414.8 L858.6,412.0 L867.5,408.7 L877.5,406.4 L887.5,408.3 L897.6,407.3 L906.5,407.8 L916.5,408.7 L926.5,409.7 L936.6,410.6 L945.5,410.6 L955.5,410.1 L960.0,410.6 L975.2,409.5 L984.7,408.9 L994.4,406.6 L1004.2,404.9 L1013.6,403.2 L1023.4,401.4 L1033.4,396.9 L1043.4,392.3 L1052.3,388.3 L1062.4,388.3 L1072.4,385.4 L1082.4,381.9 L1091.3,376.2 L1101.3,365.9 L1111.4,356.1 L1121.4,351.0 L1130.3,344.1 L1140.3,342.4 L1150.4,337.8 L1159.5,334.4 L1169.6,331.5 L1179.6,326.9 L1189.2,321.5 L1198.7,321.5 L1208.5,319.1 L1218.3,312.0 L1228.4,306.1 L1237.7,305.5 L1247.5,301.3 L1257.6,296.0 L1267.4,288.8 L1276.6,282.3 L1286.4,276.3 L1296.2,276.3 L1305.7,268.6 L1315.5,264.5 L1325.6,256.1 L1335.1,248.4 L1344.6,241.3 L1354.4,235.3 L1364.2,216.9 L1374.1,210.4 L1383.6,196.7 L1393.4,187.2 L1400.0,182.4 L1413.1,176.5 L1422.6,176.5 L1432.4,183.0 L1442.5,187.8 L1451.4,193.1 L1461.5,197.9 L1471.3,199.1 L1481.1,202.6 L1490.6,205.6 L1500.4,207.4 L1510.3,206.8 L1520.4,206.8 L1529.6,208.6 L1539.4,208.6 L1549.5,208.0 L1559.6,211.6 L1568.8,217.5 L1578.3,222.9 L1588.4,228.2 L1597.0,230.6" fill="none" stroke="#48c9c7" stroke-width="2.1" stroke-linejoin="round" stroke-linecap="round" opacity="0.95"/>
<line x1="1169.6" y1="391" x2="1617" y2="285.5" stroke="#ee2c2c" stroke-width="1.4"/>
<line x1="1383.6" y1="87.5" x2="1617" y2="208" stroke="#6666ee" stroke-width="1.5"/>
<path d="M1166.0,401.3 L1173.1999999999998,401.3 L1169.6,394.5 Z" fill="#ee2020"/>
<path d="M1457.9,332.5 L1465.1,332.5 L1461.5,325.7 Z" fill="#ee2020"/>
<path d="M1380.0,75.10000000000001 L1387.1999999999998,75.10000000000001 L1383.6,81.9 Z" fill="#1f8a10"/>
<path d="M1545.9,160.7 L1553.1,160.7 L1549.5,167.5 Z" fill="#1f8a10"/>
</g>
<clipPath id="cr"><rect x="0" y="752.5" width="1854.5" height="156.5"/></clipPath>
<clipPath id="c70"><rect x="0" y="752.5" width="1854.5" height="28.0"/></clipPath>
<path d="M-7.8,808.5 L1.5,809.8 L11.5,812.9 L21.5,806.8 L30.5,811.9 L40.5,808.8 L50.5,808.3 L60.5,798.8 L69.5,800.8 L79.5,802.8 L89.5,793.8 L99.5,801.3 L108.5,790.7 L118.5,815.4 L128.5,814.4 L137.5,818.4 L147.5,821.4 L157.5,815.9 L167.5,829.0 L176.5,864.7 L186.5,867.2 L196.5,843.5 L206.5,858.6 L215.5,878.7 L225.5,854.1 L235.5,844.0 L245.5,835.5 L254.5,853.1 L264.5,838.5 L274.5,841.0 L283.5,832.5 L293.5,844.0 L303.5,836.5 L313.5,854.6 L322.5,818.4 L332.5,807.8 L342.5,788.2 L352.5,805.8 L361.5,811.4 L371.5,792.2 L381.5,820.4 L391.5,812.4 L400.5,809.3 L410.5,809.8 L420.5,808.3 L429.5,808.3 L439.5,793.2 L449.5,777.2 L459.5,771.6 L468.5,771.1 L478.5,770.6 L488.5,802.8 L498.5,788.2 L507.5,787.7 L517.5,805.8 L527.5,810.8 L537.5,809.3 L546.5,795.3 L556.5,797.3 L566.5,801.3 L575.5,824.9 L585.5,827.4 L595.5,825.9 L605.5,810.8 L614.5,799.3 L624.5,805.3 L634.5,787.2 L644.5,823.4 L653.5,820.9 L663.5,809.3 L673.5,811.4 L683.5,776.7 L692.5,773.1 L702.5,769.6 L712.5,769.6 L721.5,776.2 L731.5,793.2 L741.5,822.9 L751.5,837.0 L760.5,847.6 L770.5,843.0 L780.5,852.6 L790.5,865.2 L799.5,853.1 L809.5,828.5 L819.5,835.0 L829.5,833.0 L838.5,831.5 L848.5,821.4 L858.5,824.4 L867.5,798.3 L877.5,826.9 L887.5,822.9 L897.5,824.4 L906.5,860.1 L916.5,850.1 L926.5,839.5 L936.5,850.1 L945.5,852.6 L955.5,844.5 L965.5,857.6 L975.5,842.0 L984.5,845.5 L994.5,815.9 L1004.5,813.9 L1013.5,819.9 L1023.5,796.3 L1033.5,774.1 L1043.5,786.7 L1052.5,773.6 L1062.5,769.1 L1072.5,793.8 L1082.5,784.2 L1091.5,772.6 L1101.5,795.3 L1111.5,842.0 L1121.5,833.5 L1130.5,822.9 L1140.5,817.4 L1150.5,838.0 L1159.5,853.6 L1169.5,848.1 L1179.5,846.6 L1189.5,832.0 L1198.5,836.5 L1208.5,811.4 L1218.5,795.3 L1228.5,786.2 L1237.5,781.7 L1247.5,780.2 L1257.5,774.6 L1267.5,766.6 L1276.5,762.1 L1286.5,778.7 L1296.5,776.2 L1305.5,798.8 L1315.5,797.8 L1325.5,779.7 L1335.5,806.3 L1344.5,803.8 L1354.5,801.3 L1364.5,779.2 L1374.5,770.1 L1383.5,781.2 L1393.5,824.4 L1403.5,844.0 L1413.5,842.5 L1422.5,858.6 L1432.5,875.2 L1442.5,869.7 L1451.5,898.9 L1461.5,864.2 L1471.5,859.6 L1481.5,870.7 L1490.5,847.6 L1500.5,836.5 L1510.5,832.0 L1520.5,831.7 L1529.5,831.5 L1539.5,838.0 L1549.5,833.5 L1559.5,835.0 L1568.5,834.7 L1578.5,850.6 L1588.5,848.6 L1597.5,850.6 L1597.5,780.5 L-7.8,780.5 Z" fill="#b4b4b4" clip-path="url(#c70)"/>
<line x1="0" y1="780.5" x2="1854.5" y2="780.5" stroke="#b0b0b0" stroke-width="1" shape-rendering="crispEdges"/>
<path d="M-7.8,808.5 L1.5,809.8 L11.5,812.9 L21.5,806.8 L30.5,811.9 L40.5,808.8 L50.5,808.3 L60.5,798.8 L69.5,800.8 L79.5,802.8 L89.5,793.8 L99.5,801.3 L108.5,790.7 L118.5,815.4 L128.5,814.4 L137.5,818.4 L147.5,821.4 L157.5,815.9 L167.5,829.0 L176.5,864.7 L186.5,867.2 L196.5,843.5 L206.5,858.6 L215.5,878.7 L225.5,854.1 L235.5,844.0 L245.5,835.5 L254.5,853.1 L264.5,838.5 L274.5,841.0 L283.5,832.5 L293.5,844.0 L303.5,836.5 L313.5,854.6 L322.5,818.4 L332.5,807.8 L342.5,788.2 L352.5,805.8 L361.5,811.4 L371.5,792.2 L381.5,820.4 L391.5,812.4 L400.5,809.3 L410.5,809.8 L420.5,808.3 L429.5,808.3 L439.5,793.2 L449.5,777.2 L459.5,771.6 L468.5,771.1 L478.5,770.6 L488.5,802.8 L498.5,788.2 L507.5,787.7 L517.5,805.8 L527.5,810.8 L537.5,809.3 L546.5,795.3 L556.5,797.3 L566.5,801.3 L575.5,824.9 L585.5,827.4 L595.5,825.9 L605.5,810.8 L614.5,799.3 L624.5,805.3 L634.5,787.2 L644.5,823.4 L653.5,820.9 L663.5,809.3 L673.5,811.4 L683.5,776.7 L692.5,773.1 L702.5,769.6 L712.5,769.6 L721.5,776.2 L731.5,793.2 L741.5,822.9 L751.5,837.0 L760.5,847.6 L770.5,843.0 L780.5,852.6 L790.5,865.2 L799.5,853.1 L809.5,828.5 L819.5,835.0 L829.5,833.0 L838.5,831.5 L848.5,821.4 L858.5,824.4 L867.5,798.3 L877.5,826.9 L887.5,822.9 L897.5,824.4 L906.5,860.1 L916.5,850.1 L926.5,839.5 L936.5,850.1 L945.5,852.6 L955.5,844.5 L965.5,857.6 L975.5,842.0 L984.5,845.5 L994.5,815.9 L1004.5,813.9 L1013.5,819.9 L1023.5,796.3 L1033.5,774.1 L1043.5,786.7 L1052.5,773.6 L1062.5,769.1 L1072.5,793.8 L1082.5,784.2 L1091.5,772.6 L1101.5,795.3 L1111.5,842.0 L1121.5,833.5 L1130.5,822.9 L1140.5,817.4 L1150.5,838.0 L1159.5,853.6 L1169.5,848.1 L1179.5,846.6 L1189.5,832.0 L1198.5,836.5 L1208.5,811.4 L1218.5,795.3 L1228.5,786.2 L1237.5,781.7 L1247.5,780.2 L1257.5,774.6 L1267.5,766.6 L1276.5,762.1 L1286.5,778.7 L1296.5,776.2 L1305.5,798.8 L1315.5,797.8 L1325.5,779.7 L1335.5,806.3 L1344.5,803.8 L1354.5,801.3 L1364.5,779.2 L1374.5,770.1 L1383.5,781.2 L1393.5,824.4 L1403.5,844.0 L1413.5,842.5 L1422.5,858.6 L1432.5,875.2 L1442.5,869.7 L1451.5,898.9 L1461.5,864.2 L1471.5,859.6 L1481.5,870.7 L1490.5,847.6 L1500.5,836.5 L1510.5,832.0 L1520.5,831.7 L1529.5,831.5 L1539.5,838.0 L1549.5,833.5 L1559.5,835.0 L1568.5,834.7 L1578.5,850.6 L1588.5,848.6 L1597.5,850.6" fill="none" stroke="#1a1a1a" stroke-width="1.2" stroke-linejoin="round" clip-path="url(#cr)"/>
<g shape-rendering="crispEdges">
<line x1="0" y1="35.5" x2="1909" y2="35.5" stroke="#5a5a5a" stroke-width="1"/>
<line x1="0" y1="752.5" x2="1854.5" y2="752.5" stroke="#a0a0a0" stroke-width="1"/>
<line x1="0" y1="909.5" x2="1854.5" y2="909.5" stroke="#6a6a6a" stroke-width="1"/>
<line x1="1854.5" y1="36" x2="1854.5" y2="910" stroke="#6a6a6a" stroke-width="1"/>
<line x1="6.5" y1="910" x2="6.5" y2="914" stroke="#555" stroke-width="1"/>
<line x1="6.5" y1="919" x2="6.5" y2="928.5" stroke="#777" stroke-width="1" stroke-dasharray="1,3"/>
<line x1="69.5" y1="910" x2="69.5" y2="914" stroke="#555" stroke-width="1"/>
<line x1="128.5" y1="910" x2="128.5" y2="914" stroke="#555" stroke-width="1"/>
<line x1="186.5" y1="910" x2="186.5" y2="914" stroke="#555" stroke-width="1"/>
<line x1="259.5" y1="910" x2="259.5" y2="914" stroke="#555" stroke-width="1"/>
<line x1="259.5" y1="919" x2="259.5" y2="928.5" stroke="#777" stroke-width="1" stroke-dasharray="1,3"/>
<line x1="303.5" y1="910" x2="303.5" y2="914" stroke="#555" stroke-width="1"/>
<line x1="361.5" y1="910" x2="361.5" y2="914" stroke="#555" stroke-width="1"/>
<line x1="420.5" y1="910" x2="420.5" y2="914" stroke="#555" stroke-width="1"/>
<line x1="478.5" y1="910" x2="478.5" y2="914" stroke="#555" stroke-width="1"/>
<line x1="522.5" y1="910" x2="522.5" y2="914" stroke="#555" stroke-width="1"/>
<line x1="522.5" y1="919" x2="522.5" y2="928.5" stroke="#777" stroke-width="1" stroke-dasharray="1,3"/>
<line x1="595.5" y1="910" x2="595.5" y2="914" stroke="#555" stroke-width="1"/>
<line x1="653.5" y1="910" x2="653.5" y2="914" stroke="#555" stroke-width="1"/>
<line x1="712.5" y1="910" x2="712.5" y2="914" stroke="#555" stroke-width="1"/>
<line x1="775.5" y1="910" x2="775.5" y2="914" stroke="#555" stroke-width="1"/>
<line x1="775.5" y1="919" x2="775.5" y2="928.5" stroke="#777" stroke-width="1" stroke-dasharray="1,3"/>
<line x1="829.5" y1="910" x2="829.5" y2="914" stroke="#555" stroke-width="1"/>
<line x1="887.5" y1="910" x2="887.5" y2="914" stroke="#555" stroke-width="1"/>
<line x1="945.5" y1="910" x2="945.5" y2="914" stroke="#555" stroke-width="1"/>
<line x1="1028.5" y1="910" x2="1028.5" y2="914" stroke="#555" stroke-width="1"/>
<line x1="1028.5" y1="919" x2="1028.5" y2="928.5" stroke="#777" stroke-width="1" stroke-dasharray="1,3"/>
<line x1="1062.5" y1="910" x2="1062.5" y2="914" stroke="#555" stroke-width="1"/>
<line x1="1121.5" y1="910" x2="1121.5" y2="914" stroke="#555" stroke-width="1"/>
<line x1="1179.5" y1="910" x2="1179.5" y2="914" stroke="#555" stroke-width="1"/>
<line x1="1237.5" y1="910" x2="1237.5" y2="914" stroke="#555" stroke-width="1"/>
<line x1="1291.5" y1="910" x2="1291.5" y2="914" stroke="#555" stroke-width="1"/>
<line x1="1291.5" y1="919" x2="1291.5" y2="928.5" stroke="#777" stroke-width="1" stroke-dasharray="1,3"/>
<line x1="1354.5" y1="910" x2="1354.5" y2="914" stroke="#555" stroke-width="1"/>
<line x1="1413.5" y1="910" x2="1413.5" y2="914" stroke="#555" stroke-width="1"/>
<line x1="1471.5" y1="910" x2="1471.5" y2="914" stroke="#555" stroke-width="1"/>
<line x1="1534.5" y1="910" x2="1534.5" y2="914" stroke="#555" stroke-width="1"/>
<line x1="1534.5" y1="919" x2="1534.5" y2="928.5" stroke="#777" stroke-width="1" stroke-dasharray="1,3"/>
<line x1="1588.5" y1="910" x2="1588.5" y2="914" stroke="#555" stroke-width="1"/>
<line x1="1656.5" y1="910" x2="1656.5" y2="914" stroke="#555" stroke-width="1"/>
<line x1="1724.5" y1="910" x2="1724.5" y2="914" stroke="#555" stroke-width="1"/>
<line x1="1792.5" y1="910" x2="1792.5" y2="914" stroke="#555" stroke-width="1"/>
<line x1="1826.5" y1="910" x2="1826.5" y2="914" stroke="#555" stroke-width="1"/>
<line x1="1826.5" y1="919" x2="1826.5" y2="928.5" stroke="#777" stroke-width="1" stroke-dasharray="1,3"/>
<line x1="1854.5" y1="55.5" x2="1857.0" y2="55.5" stroke="#777" stroke-width="1"/>
<line x1="1854.5" y1="171.5" x2="1857.0" y2="171.5" stroke="#777" stroke-width="1"/>
<line x1="1854.5" y1="286.5" x2="1857.0" y2="286.5" stroke="#777" stroke-width="1"/>
<line x1="1854.5" y1="402.5" x2="1857.0" y2="402.5" stroke="#777" stroke-width="1"/>
<line x1="1854.5" y1="518.5" x2="1857.0" y2="518.5" stroke="#777" stroke-width="1"/>
<line x1="1854.5" y1="633.5" x2="1857.0" y2="633.5" stroke="#777" stroke-width="1"/>
<line x1="1854.5" y1="762.5" x2="1857.0" y2="762.5" stroke="#777" stroke-width="1"/>
<line x1="1854.5" y1="780.5" x2="1857.0" y2="780.5" stroke="#777" stroke-width="1"/>
<line x1="1854.5" y1="797.5" x2="1857.0" y2="797.5" stroke="#777" stroke-width="1"/>
<line x1="1854.5" y1="814.5" x2="1857.0" y2="814.5" stroke="#777" stroke-width="1"/>
<line x1="1854.5" y1="831.5" x2="1857.0" y2="831.5" stroke="#777" stroke-width="1"/>
<line x1="1854.5" y1="865.5" x2="1857.0" y2="865.5" stroke="#777" stroke-width="1"/>
<line x1="1854.5" y1="882.5" x2="1857.0" y2="882.5" stroke="#777" stroke-width="1"/>
<line x1="1854.5" y1="899.5" x2="1857.0" y2="899.5" stroke="#777" stroke-width="1"/>
</g>
<g style="filter:brightness(1)">
<text transform="translate(1860.5,58.2) scale(1.04,1)" font-size="10.6" fill="#555" text-anchor="start">10,000</text>
<text transform="translate(1860.5,174.2) scale(1.04,1)" font-size="10.6" fill="#555" text-anchor="start">9,750</text>
<text transform="translate(1860.5,289.2) scale(1.04,1)" font-size="10.6" fill="#555" text-anchor="start">9,500</text>
<text transform="translate(1860.5,405.2) scale(1.04,1)" font-size="10.6" fill="#555" text-anchor="start">9,250</text>
<text transform="translate(1860.5,521.2) scale(1.04,1)" font-size="10.6" fill="#555" text-anchor="start">9,000</text>
<text transform="translate(1860.5,636.2) scale(1.04,1)" font-size="10.6" fill="#555" text-anchor="start">8,750</text>
<text transform="translate(1860.3,766.6) scale(1.04,1)" font-size="10.6" fill="#555" text-anchor="start">75.0</text>
<text transform="translate(1860.3,784.1) scale(1.04,1)" font-size="10.6" fill="#222" text-anchor="start"><tspan font-weight="bold">70</tspan>.0</text>
<text transform="translate(1860.3,801.1) scale(1.04,1)" font-size="10.6" fill="#555" text-anchor="start">65.0</text>
<text transform="translate(1860.3,818.1) scale(1.04,1)" font-size="10.6" fill="#555" text-anchor="start">60.0</text>
<text transform="translate(1860.3,835.1) scale(1.04,1)" font-size="10.6" fill="#555" text-anchor="start">55.0</text>
<text transform="translate(1860.3,869.1) scale(1.04,1)" font-size="10.6" fill="#555" text-anchor="start">45.0</text>
<text transform="translate(1860.3,886.1) scale(1.04,1)" font-size="10.6" fill="#555" text-anchor="start">40.0</text>
<text transform="translate(1860.3,903.1) scale(1.04,1)" font-size="10.6" fill="#555" text-anchor="start">35.0</text>
<text transform="translate(69.4,925.8) scale(1.04,1)" font-size="10.6" fill="#555" text-anchor="middle">8</text>
<text transform="translate(128.3,925.8) scale(1.04,1)" font-size="10.6" fill="#555" text-anchor="middle">15</text>
<text transform="translate(186.4,925.8) scale(1.04,1)" font-size="10.6" fill="#555" text-anchor="middle">22</text>
<text transform="translate(303.5,925.8) scale(1.04,1)" font-size="10.6" fill="#555" text-anchor="middle">6</text>
<text transform="translate(361.4,925.8) scale(1.04,1)" font-size="10.6" fill="#555" text-anchor="middle">13</text>
<text transform="translate(420.3,925.8) scale(1.04,1)" font-size="10.6" fill="#555" text-anchor="middle">20</text>
<text transform="translate(478.5,925.8) scale(1.04,1)" font-size="10.6" fill="#555" text-anchor="middle">27</text>
<text transform="translate(595.5,925.8) scale(1.04,1)" font-size="10.6" fill="#555" text-anchor="middle">10</text>
<text transform="translate(653.6,925.8) scale(1.04,1)" font-size="10.6" fill="#555" text-anchor="middle">17</text>
<text transform="translate(712.5,925.8) scale(1.04,1)" font-size="10.6" fill="#555" text-anchor="middle">24</text>
<text transform="translate(829.3,925.8) scale(1.04,1)" font-size="10.6" fill="#555" text-anchor="middle">7</text>
<text transform="translate(887.5,925.8) scale(1.04,1)" font-size="10.6" fill="#555" text-anchor="middle">14</text>
<text transform="translate(945.6,925.8) scale(1.04,1)" font-size="10.6" fill="#555" text-anchor="middle">21</text>
<text transform="translate(1062.5,925.8) scale(1.04,1)" font-size="10.6" fill="#555" text-anchor="middle">5</text>
<text transform="translate(1121.3,925.8) scale(1.04,1)" font-size="10.6" fill="#555" text-anchor="middle">12</text>
<text transform="translate(1179.4,925.8) scale(1.04,1)" font-size="10.6" fill="#555" text-anchor="middle">19</text>
<text transform="translate(1237.6,925.8) scale(1.04,1)" font-size="10.6" fill="#555" text-anchor="middle">26</text>
<text transform="translate(1354.5,925.8) scale(1.04,1)" font-size="10.6" fill="#555" text-anchor="middle">9</text>
<text transform="translate(1413.3,925.8) scale(1.04,1)" font-size="10.6" fill="#555" text-anchor="middle">16</text>
<text transform="translate(1471.4,925.8) scale(1.04,1)" font-size="10.6" fill="#555" text-anchor="middle">23</text>
<text transform="translate(1588.2,925.8) scale(1.04,1)" font-size="10.6" fill="#555" text-anchor="middle">7</text>
<text transform="translate(1656.4,925.8) scale(1.04,1)" font-size="10.6" fill="#555" text-anchor="middle">14</text>
<text transform="translate(1724.4,925.8) scale(1.04,1)" font-size="10.6" fill="#555" text-anchor="middle">21</text>
<text transform="translate(1792.3,925.8) scale(1.04,1)" font-size="10.6" fill="#555" text-anchor="middle">28</text>
<text transform="translate(6.4,939.8) scale(1.04,1)" font-size="10.6" fill="#555" text-anchor="middle">Jun '25</text>
<text transform="translate(259.6,939.8) scale(1.04,1)" font-size="10.6" fill="#555" text-anchor="middle">Jul '25</text>
<text transform="translate(522.4,939.8) scale(1.04,1)" font-size="10.6" fill="#555" text-anchor="middle">Aug '25</text>
<text transform="translate(775.4,939.8) scale(1.04,1)" font-size="10.6" fill="#555" text-anchor="middle">Sept '25</text>
<text transform="translate(1028.4,939.8) scale(1.04,1)" font-size="10.6" fill="#555" text-anchor="middle">Oct '25</text>
<text transform="translate(1291.6,939.8) scale(1.04,1)" font-size="10.6" fill="#555" text-anchor="middle">Nov '25</text>
<text transform="translate(1534.4,939.8) scale(1.04,1)" font-size="10.6" fill="#555" text-anchor="middle">Dec '25</text>
<text transform="translate(1826.5,939.8) scale(1.04,1)" font-size="10.6" fill="#555" text-anchor="middle">Jan '26</text>
<path d="M1846,163 L1854.5,155.3 L1888.5,155.3 Q1890.5,155.3 1890.5,157.3 L1890.5,168.7 Q1890.5,170.7 1888.5,170.7 L1854.5,170.7 Z" fill="#f58a20"/>
<text x="1860.5" y="166.7" font-size="10.6" fill="#111" textLength="27.1" lengthAdjust="spacingAndGlyphs">9,767</text>
<path d="M1846,212.5 L1854.5,204.8 L1903.5,204.8 Q1905.5,204.8 1905.5,206.8 L1905.5,218.2 Q1905.5,220.2 1903.5,220.2 L1854.5,220.2 Z" fill="#6656a8"/>
<text x="1860.5" y="216.2" font-size="10.6" fill="#fff" textLength="41.4" lengthAdjust="spacingAndGlyphs">9,659.80</text>
<path d="M1846,230.1 L1854.5,222.4 L1888.5,222.4 Q1890.5,222.4 1890.5,224.4 L1890.5,235.79999999999998 Q1890.5,237.79999999999998 1888.5,237.79999999999998 L1854.5,237.79999999999998 Z" fill="#4ccbc9"/>
<text x="1860.5" y="233.79999999999998" font-size="10.6" fill="#111" textLength="27.1" lengthAdjust="spacingAndGlyphs">9,622</text>
<path d="M1846,297.4 L1854.5,289.7 L1888.5,289.7 Q1890.5,289.7 1890.5,291.7 L1890.5,303.09999999999997 Q1890.5,305.09999999999997 1888.5,305.09999999999997 L1854.5,305.09999999999997 Z" fill="#f58a20"/>
<text x="1860.5" y="301.09999999999997" font-size="10.6" fill="#111" textLength="27.1" lengthAdjust="spacingAndGlyphs">9,478</text>
<path d="M1846,850.3 L1854.5,842.5999999999999 L1882,842.5999999999999 Q1884,842.5999999999999 1884,844.5999999999999 L1884,856.0 Q1884,858.0 1882,858.0 L1854.5,858.0 Z" fill="#000"/>
<text x="1860.5" y="854.0" font-size="10.6" fill="#fff" font-weight="bold" font-style="italic" textLength="20.8" lengthAdjust="spacingAndGlyphs">49.6</text>
<text x="10.7" y="64" font-size="11.2" font-weight="bold" fill="#333" textLength="77.3" lengthAdjust="spacingAndGlyphs">UK 100, DAILY</text>
<rect x="0" y="679" width="252" height="25" fill="#fff" opacity="0.85"/>
<text x="4.2" y="695.9" font-size="9.8" fill="#333" font-weight="bold" textLength="29.5" lengthAdjust="spacingAndGlyphs">VWAP</text>
<text x="37.5" y="695.9" font-size="9.8" fill="#555" textLength="37.4" lengthAdjust="spacingAndGlyphs">20 1 2 3</text>
<g transform="translate(86,693)" fill="#999"><circle r="4.1"/><rect x="-1.15" y="-5.9" width="2.3" height="2.8" transform="rotate(0)"/><rect x="-1.15" y="-5.9" width="2.3" height="2.8" transform="rotate(45)"/><rect x="-1.15" y="-5.9" width="2.3" height="2.8" transform="rotate(90)"/><rect x="-1.15" y="-5.9" width="2.3" height="2.8" transform="rotate(135)"/><rect x="-1.15" y="-5.9" width="2.3" height="2.8" transform="rotate(180)"/><rect x="-1.15" y="-5.9" width="2.3" height="2.8" transform="rotate(225)"/><rect x="-1.15" y="-5.9" width="2.3" height="2.8" transform="rotate(270)"/><rect x="-1.15" y="-5.9" width="2.3" height="2.8" transform="rotate(315)"/><circle r="2.05" fill="#fff"/></g>
<path d="M99.5,689.7 L106.5,696.7 M106.5,689.7 L99.5,696.7" stroke="#999" stroke-width="2.6" fill="none"/>
<text x="121.9" y="695.9" font-size="9.8" fill="#333" font-weight="bold" textLength="65.4" lengthAdjust="spacingAndGlyphs">AUTO TREND</text>
<text x="191" y="695.9" font-size="9.8" fill="#555" textLength="22.7" lengthAdjust="spacingAndGlyphs">4 2 2</text>
<g transform="translate(226.2,693)" fill="#999"><circle r="4.1"/><rect x="-1.15" y="-5.9" width="2.3" height="2.8" transform="rotate(0)"/><rect x="-1.15" y="-5.9" width="2.3" height="2.8" transform="rotate(45)"/><rect x="-1.15" y="-5.9" width="2.3" height="2.8" transform="rotate(90)"/><rect x="-1.15" y="-5.9" width="2.3" height="2.8" transform="rotate(135)"/><rect x="-1.15" y="-5.9" width="2.3" height="2.8" transform="rotate(180)"/><rect x="-1.15" y="-5.9" width="2.3" height="2.8" transform="rotate(225)"/><rect x="-1.15" y="-5.9" width="2.3" height="2.8" transform="rotate(270)"/><rect x="-1.15" y="-5.9" width="2.3" height="2.8" transform="rotate(315)"/><circle r="2.05" fill="#fff"/></g>
<path d="M239.3,689.7 L246.3,696.7 M246.3,689.7 L239.3,696.7" stroke="#999" stroke-width="2.6" fill="none"/>
<rect x="0" y="762" width="74" height="24.7" fill="#fff" opacity="0.85"/>
<text x="4.6" y="777.8" font-size="9.8" fill="#333" font-weight="bold" textLength="14.5" lengthAdjust="spacingAndGlyphs">RSI</text>
<text x="23.8" y="777.8" font-size="9.8" fill="#555" textLength="10.8" lengthAdjust="spacingAndGlyphs">14</text>
<g transform="translate(46,776)" fill="#999"><circle r="4.1"/><rect x="-1.15" y="-5.9" width="2.3" height="2.8" transform="rotate(0)"/><rect x="-1.15" y="-5.9" width="2.3" height="2.8" transform="rotate(45)"/><rect x="-1.15" y="-5.9" width="2.3" height="2.8" transform="rotate(90)"/><rect x="-1.15" y="-5.9" width="2.3" height="2.8" transform="rotate(135)"/><rect x="-1.15" y="-5.9" width="2.3" height="2.8" transform="rotate(180)"/><rect x="-1.15" y="-5.9" width="2.3" height="2.8" transform="rotate(225)"/><rect x="-1.15" y="-5.9" width="2.3" height="2.8" transform="rotate(270)"/><rect x="-1.15" y="-5.9" width="2.3" height="2.8" transform="rotate(315)"/><circle r="2.05" fill="#fff"/></g>
<path d="M59.6,772.6 L66.6,779.6 M66.6,772.6 L59.6,779.6" stroke="#999" stroke-width="2.6" fill="none"/>
<path d="M85.5,780.6 L85.5,769.4 M79.9,774.9 L85.5,769.3 L91.1,774.9" stroke="#444" stroke-width="1.1" fill="none"/>
</g>
<text x="6.5" y="19.9" font-size="12.3" font-weight="bold" fill="#222" textLength="30.6" lengthAdjust="spacingAndGlyphs">Daily</text>
<path d="M43,13.6 L52.2,13.6 L47.6,19.1 Z" fill="#555"/>
<text x="72.9" y="19.9" font-size="12.3" font-weight="bold" fill="#222" textLength="58.5" lengthAdjust="spacingAndGlyphs">Technical</text>
<path d="M137.7,13.6 L147.1,13.6 L142.39999999999998,19.1 Z" fill="#555"/>
<text x="167.2" y="19.9" font-size="12.3" font-weight="bold" fill="#222" textLength="45" lengthAdjust="spacingAndGlyphs">Display</text>
<path d="M219,13.6 L228.2,13.6 L223.6,19.1 Z" fill="#555"/>
<text x="248.5" y="19.9" font-size="12.3" font-weight="bold" fill="#222" textLength="31.5" lengthAdjust="spacingAndGlyphs">More</text>
<path d="M285.9,13.6 L295.3,13.6 L290.6,19.1 Z" fill="#555"/>
<path d="M318.6,21 Q317.3,20.6 317.3,19.4 L317.3,10.6 Q317.3,9.3 318.6,9.3 L322,9.3 Q322.6,9.3 323,9.8 L324.2,11 Q324.6,11.4 325.2,11.4 L327.4,11.4 Q328.7,11.4 328.7,12.7" fill="none" stroke="#333" stroke-width="0.85" stroke-linecap="round" stroke-linejoin="round"/>
<path d="M322.6,14 L331.3,14 Q332.2,14 331.8,14.9 L329.3,20.6 Q328.9,21.5 328,21.5 L319,21.5 Q318.2,21.5 318.6,20.7 L321.4,14.8 Q321.8,14 322.6,14 Z" fill="#333"/>
<path d="M352.6,8 L363.4,8 L366,10.5 L366,21.5 Q366,22.8 364.7,22.8 L352.5,22.8 Q351.2,22.8 351.2,21.5 L351.2,9.3 Q351.2,8 352.6,8 Z" fill="#333"/>
<rect x="355.1" y="8.7" width="7" height="4.4" fill="#fff"/><rect x="359.1" y="9.7" width="2" height="2" fill="#333"/>
<rect x="353.2" y="15.1" width="10.9" height="6.5" rx="1" fill="#fff"/>
<rect x="384" y="12.1" width="15" height="4.2" fill="#111"/>
<rect x="419.8" y="12.1" width="15.1" height="4.2" fill="#111"/><rect x="424.8" y="7" width="5.1" height="14.6" fill="#111"/>
<g shape-rendering="crispEdges"><line x1="398.5" y1="26" x2="398.5" y2="35" stroke="#d0d0d0"/><line x1="434.5" y1="26" x2="434.5" y2="35" stroke="#d0d0d0"/></g>
</svg>
</body></html>
